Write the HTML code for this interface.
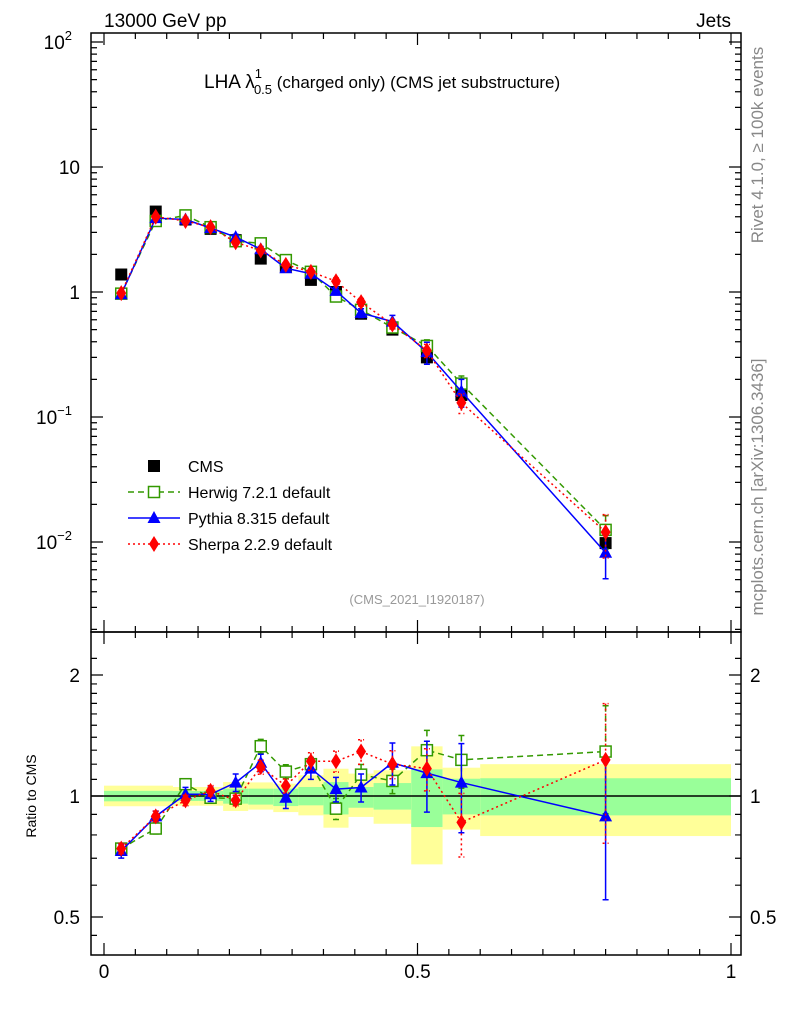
<!DOCTYPE html>
<html><head><meta charset="utf-8">
<style>
body{margin:0;background:#fff;}
svg{display:block;font-family:"Liberation Sans",sans-serif;}
</style></head>
<body>
<svg id="c" width="786" height="1024" viewBox="0 0 786 1024" xmlns="http://www.w3.org/2000/svg">
<text x="104" y="27" font-size="19">13000 GeV pp</text>
<text x="731" y="27" font-size="19" text-anchor="end">Jets</text>
<text x="204" y="88" font-size="19">LHA λ<tspan font-size="13" dy="-10" dx="0">1</tspan><tspan font-size="13" dy="16" dx="-8">0.5</tspan><tspan dy="-6" font-size="17"> (charged only) (CMS jet substructure)</tspan></text>
<text x="417" y="604" font-size="13" fill="#999" text-anchor="middle">(CMS_2021_I1920187)</text>
<text transform="translate(763,145) rotate(-90)" font-size="17" fill="#888" text-anchor="middle">Rivet 4.1.0, ≥ 100k events</text>
<text transform="translate(763,487) rotate(-90)" font-size="17" fill="#888" text-anchor="middle">mcplots.cern.ch [arXiv:1306.3436]</text>
<text transform="translate(36,796) rotate(-90)" font-size="14" text-anchor="middle">Ratio to CMS</text>
<g id="bands"></g><g id="gridlines"></g><g id="series"></g><g id="axes"></g><g id="legend"></g>
</svg>
<script>
const binEdges=[0,0.055,0.11,0.15,0.19,0.23,0.27,0.31,0.35,0.39,0.43,0.49,0.54,0.6,1.0];
const xCenters=[0.0275,0.0825,0.13,0.17,0.21,0.25,0.29,0.33,0.37,0.41,0.46,0.515,0.57,0.8];
const cmsValues=[1.38,4.4,3.8,3.2,2.6,1.85,1.6,1.25,1.0,0.67,0.5,0.3,0.15,0.0098];
const herwigValues=[0.97,3.7,4.1,3.3,2.55,2.45,1.8,1.45,0.92,0.72,0.52,0.37,0.185,0.0125];
const pythiaValues=[0.96,3.9,3.8,3.25,2.75,2.2,1.55,1.4,1.02,0.68,0.58,0.33,0.16,0.0082];
const sherpaValues=[0.98,4.0,3.7,3.3,2.5,2.15,1.65,1.45,1.22,0.83,0.55,0.34,0.13,0.012];
const herwigRatio=[0.74,0.83,1.07,0.99,0.985,1.33,1.15,1.20,0.93,1.13,1.09,1.30,1.23,1.29];
const pythiaRatio=[0.73,0.89,1.01,1.01,1.08,1.21,0.99,1.17,1.04,1.05,1.21,1.14,1.08,0.89];
const sherpaRatio=[0.74,0.89,0.975,1.03,0.975,1.18,1.06,1.22,1.22,1.29,1.20,1.17,0.86,1.23];
const herwigErr=[0.03,0.03,0.03,0.03,0.03,0.04,0.04,0.04,0.06,0.06,0.07,0.12,0.15,0.3];
const pythiaErr=[0.04,0.03,0.04,0.04,0.05,0.05,0.06,0.06,0.07,0.08,0.12,0.2,0.25,0.38];
const sherpaErr=[0.03,0.03,0.03,0.03,0.03,0.04,0.04,0.05,0.06,0.07,0.08,0.12,0.18,0.38];
const bandYellowHi=[1.061,1.061,1.053,1.053,1.083,1.081,1.073,1.126,1.169,1.137,1.159,1.329,1.176,1.200];
const bandYellowLo=[0.943,0.943,0.946,0.946,0.918,0.925,0.912,0.895,0.834,0.887,0.853,0.676,0.825,0.795];
const bandGreenHi=[1.03,1.03,1.029,1.029,1.043,1.043,1.043,1.053,1.083,1.053,1.077,1.165,1.104,1.107];
const bandGreenLo=[0.97,0.97,0.972,0.972,0.957,0.952,0.944,0.948,0.900,0.935,0.925,0.837,0.900,0.895];
const xTickLabels=["0","0.5","1"];const xTickVals=[0,0.5,1];

const NS="http://www.w3.org/2000/svg";
const X=v=>104+627*v;
const YM=v=>292-125*Math.log10(v);
const YR=v=>796-121*Math.log2(v);
const L=91,R=741,T=33,MB=632,RB=955;
function mk(p,tag,a){const e=document.createElementNS(NS,tag);for(const k in a)e.setAttribute(k,a[k]);document.getElementById(p).appendChild(e);return e;}

for(let i=0;i<xCenters.length;i++){
  const x0=X(binEdges[i]),x1=X(binEdges[i+1]);
  const y=mk('bands','rect',{x:x0,y:YR(bandYellowHi[i]),width:x1-x0,height:YR(bandYellowLo[i])-YR(bandYellowHi[i]),fill:'#ffff99'});
  
  
  const g=mk('bands','rect',{x:x0,y:YR(bandGreenHi[i]),width:x1-x0,height:YR(bandGreenLo[i])-YR(bandGreenHi[i]),fill:'#99ff99'});
  
  
}
const one=mk('gridlines','line',{x1:L,x2:R,y1:YR(1),y2:YR(1),stroke:'#000','stroke-width':1.5});



function marker(p,type,x,y,col){
  let e;
  if(type==='sq') e=mk(p,'rect',{x:x-6,y:y-6,width:12,height:12,fill:'#000'});
  else if(type==='osq') e=mk(p,'rect',{x:x-5.5,y:y-5.5,width:11,height:11,fill:'#fff',stroke:col,'stroke-width':1.5});
  else if(type==='tri') e=mk(p,'polygon',{points:`${x},${y-7} ${x-6.5},${y+5} ${x+6.5},${y+5}`,fill:col});
  else e=mk(p,'polygon',{points:`${x},${y-8} ${x-5},${y} ${x},${y+8} ${x+5},${y}`,fill:col});
  return e;
}
const series=[
 {name:'herwig',vals:herwigValues,rat:herwigRatio,err:herwigErr,col:'#339900',dash:'6,4',m:'osq'},
 {name:'pythia',vals:pythiaValues,rat:pythiaRatio,err:pythiaErr,col:'#0000ff',dash:'',m:'tri'},
 {name:'sherpa',vals:sherpaValues,rat:sherpaRatio,err:sherpaErr,col:'#ff0000',dash:'2,3',m:'dia'}];
cmsValues.forEach((v,i)=>{const e=marker('series','sq',X(xCenters[i]),YM(v));
  
  });
series.forEach(s=>{
  [[s.vals,YM,true],[s.rat,YR,false]].forEach(([arr,Y,main])=>{
    const pts=arr.map((v,i)=>X(xCenters[i])+','+Y(v)).join(' ');
    const pl=mk('series','polyline',{points:pts,fill:'none',stroke:s.col,'stroke-width':1.5,'stroke-dasharray':s.dash});
    
    
    arr.forEach((v,i)=>{
      const x=X(xCenters[i]);const e=s.err[i];
      const y1=Y(v*(1+e)),y2=Y(Math.max(v*(1-e),1e-4));
      const eb=mk('series','path',{d:`M${x},${y1}V${y2}M${x-3},${y1}H${x+3}M${x-3},${y2}H${x+3}`,stroke:s.col,'stroke-width':1.5,fill:'none','stroke-dasharray':s.dash});
      
      
      const m=marker('series',s.m,x,Y(v),s.col);
      
      
    });
  });
});
[[T,MB],[MB,RB]].forEach(([t,b])=>{const f=mk('axes','rect',{x:L,y:t,width:R-L,height:b-t,fill:'none',stroke:'#000','stroke-width':1.5});
  
  });
let d='';
for(let e=-3;e<=2;e++)for(let k=1;k<10;k++){const v=k*Math.pow(10,e);const y=YM(v);if(y<T||y>MB)continue;const len=k===1?12:6;d+=`M${L},${y}h${len}M${R},${y}h${-len}`;}
[0.5,1,2].forEach(v=>{d+=`M${L},${YR(v)}h12M${R},${YR(v)}h-12`;});
[0.45,0.6,0.7,0.8,0.9,1.1,1.2,1.3,1.4,1.5,1.6,1.7,1.8,1.9,2.2].forEach(v=>{const y=YR(v);if(y>MB&&y<RB)d+=`M${L},${y}h6M${R},${y}h-6`;});
for(let i=0;i<=20;i++){const v=i*0.05;const x=X(v);const len=i%10===0?12:6;d+=`M${x},${T}v${len}M${x},${MB}v${-len}M${x},${MB}v${len}M${x},${RB}v${-len}`;}
const tk=mk('axes','path',{d:d,stroke:'#000','stroke-width':1.2,fill:'none'});


const mainLabels=[[100,'10','2'],[10,'10',''],[1,'1',''],[0.1,'10','−1'],[0.01,'10','−2']];
mainLabels.forEach(([v,b,sup])=>{const t=mk('axes','text',{x:sup?72:80,y:YM(v)+7,'font-size':19,'text-anchor':'end'});
  
  
  t.textContent=b;if(sup){const s=document.createElementNS(NS,'tspan');s.setAttribute('font-size',13);s.setAttribute('dy',-9);s.textContent=sup;t.appendChild(s);}});
[[2,'2'],[1,'1'],[0.5,'0.5']].forEach(([v,l])=>{
  [[80,'end'],[750,'start']].forEach(([x,a])=>{const t=mk('axes','text',{x:x,y:YR(v)+7,'font-size':19,'text-anchor':a});
  
  
  t.textContent=l;});});
xTickVals.forEach((v,i)=>{const t=mk('axes','text',{x:X(v),y:978,'font-size':19,'text-anchor':'middle'});
  
  
  t.textContent=xTickLabels[i];});
const leg=[['CMS','sq','#000',''],['Herwig 7.2.1 default','osq','#339900','6,4'],['Pythia 8.315 default','tri','#0000ff',''],['Sherpa 2.2.9 default','dia','#ff0000','2,3']];
leg.forEach(([n,m,c,da],i)=>{const y=466+i*26;
  if(m!=='sq'){const l=mk('legend','line',{x1:128,x2:180,y1:y,y2:y,stroke:c,'stroke-width':1.5,'stroke-dasharray':da});
    
    }
  const mm=marker('legend',m,154,y,c);
  
  
  const t=mk('legend','text',{x:188,y:y+6,'font-size':16});
  
  
  t.textContent=n;});
</script>
</body></html>
